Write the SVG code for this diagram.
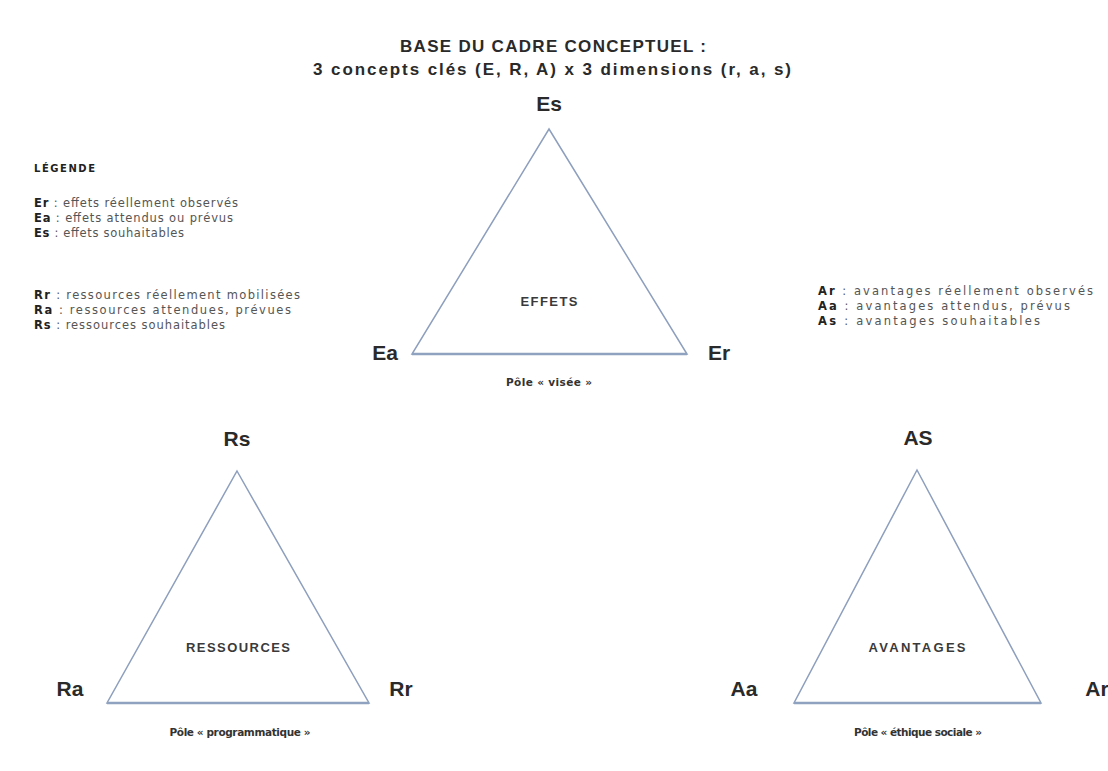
<svg xmlns="http://www.w3.org/2000/svg" width="1108" height="771" viewBox="0 0 1108 771">
<style>
.t{font-family:"Liberation Sans",Arial,sans-serif;fill:#2a2a2a}
.title{font-size:17px;font-weight:bold;text-anchor:middle}
.v{font-size:21px;font-weight:bold;text-anchor:middle}
.leg{font-family:"DejaVu Sans","Liberation Sans",sans-serif;font-size:11.5px;fill:#555}
.legb{font-weight:bold;fill:#222}
.in{font-size:13px;font-weight:bold;text-anchor:middle;fill:#3a3a3a}
.pole{font-family:"DejaVu Sans","Liberation Sans",sans-serif;font-size:10.5px;font-weight:bold;text-anchor:middle;fill:#333}
.tri{fill:#fff;stroke:#8d9fbd;stroke-width:1.5;stroke-linejoin:miter}
.base{stroke:#8fa2c0;stroke-width:2.5}
</style>
<rect width="1108" height="771" fill="#fff"/>
<g id="title">
<text class="t title" x="553" y="52" textLength="306" lengthAdjust="spacing">BASE DU CADRE CONCEPTUEL :</text>
<text class="t title" x="552" y="75" textLength="478" lengthAdjust="spacing">3 concepts clés (E, R, A) x 3 dimensions (r, a, s)</text>
</g>
<g id="legende">
<text class="t leg legb" x="34" y="172" style="font-size:10px" textLength="61" lengthAdjust="spacing">LÉGENDE</text>
<text class="t leg" x="34" y="207" textLength="204" lengthAdjust="spacing"><tspan class="legb">Er</tspan> : effets réellement observés</text>
<text class="t leg" x="34" y="222" textLength="199" lengthAdjust="spacing"><tspan class="legb">Ea</tspan> : effets attendus ou prévus</text>
<text class="t leg" x="34" y="237" textLength="150" lengthAdjust="spacing"><tspan class="legb">Es</tspan> : effets souhaitables</text>
<text class="t leg" x="34" y="299" textLength="266" lengthAdjust="spacing"><tspan class="legb">Rr</tspan> : ressources réellement mobilisées</text>
<text class="t leg" x="34" y="314" textLength="257" lengthAdjust="spacing"><tspan class="legb">Ra</tspan> : ressources attendues, prévues</text>
<text class="t leg" x="34" y="329" textLength="191" lengthAdjust="spacing"><tspan class="legb">Rs</tspan> : ressources souhaitables</text>
<text class="t leg" x="818" y="295" textLength="275" lengthAdjust="spacing"><tspan class="legb">Ar</tspan> : avantages réellement observés</text>
<text class="t leg" x="818" y="310" textLength="252" lengthAdjust="spacing"><tspan class="legb">Aa</tspan> : avantages attendus, prévus</text>
<text class="t leg" x="818" y="325" textLength="222" lengthAdjust="spacing"><tspan class="legb">As</tspan> : avantages souhaitables</text>
</g>
<g id="effets">
<polygon class="tri" points="549,129 687,354 412,354"/>
<line class="base" x1="412" y1="354" x2="687" y2="354"/>
<text class="t in" x="549" y="306" textLength="57" lengthAdjust="spacing">EFFETS</text>
<text class="t v" x="549" y="111">Es</text>
<text class="t v" x="385" y="360">Ea</text>
<text class="t v" x="719" y="360">Er</text>
<text class="t pole" x="549" y="386" textLength="86" lengthAdjust="spacing">Pôle « visée »</text>
</g>
<g id="ressources">
<polygon class="tri" points="237,471 369,703 107,703"/>
<line class="base" x1="107" y1="703" x2="369" y2="703"/>
<text class="t in" x="238" y="652" textLength="104" lengthAdjust="spacing">RESSOURCES</text>
<text class="t v" x="237" y="446">Rs</text>
<text class="t v" x="70" y="696">Ra</text>
<text class="t v" x="401" y="696">Rr</text>
<text class="t pole" x="240" y="736" textLength="141" lengthAdjust="spacing">Pôle « programmatique »</text>
</g>
<g id="avantages">
<polygon class="tri" points="917,470 1041,703 794,703"/>
<line class="base" x1="794" y1="703" x2="1041" y2="703"/>
<text class="t in" x="917" y="652" textLength="97" lengthAdjust="spacing">AVANTAGES</text>
<text class="t v" x="918" y="445">AS</text>
<text class="t v" x="744" y="696">Aa</text>
<text class="t v" x="1097" y="696">Ar</text>
<text class="t pole" x="918" y="736" textLength="128" lengthAdjust="spacing">Pôle « éthique sociale »</text>
</g>
<g id="connectors"/>
</svg>
